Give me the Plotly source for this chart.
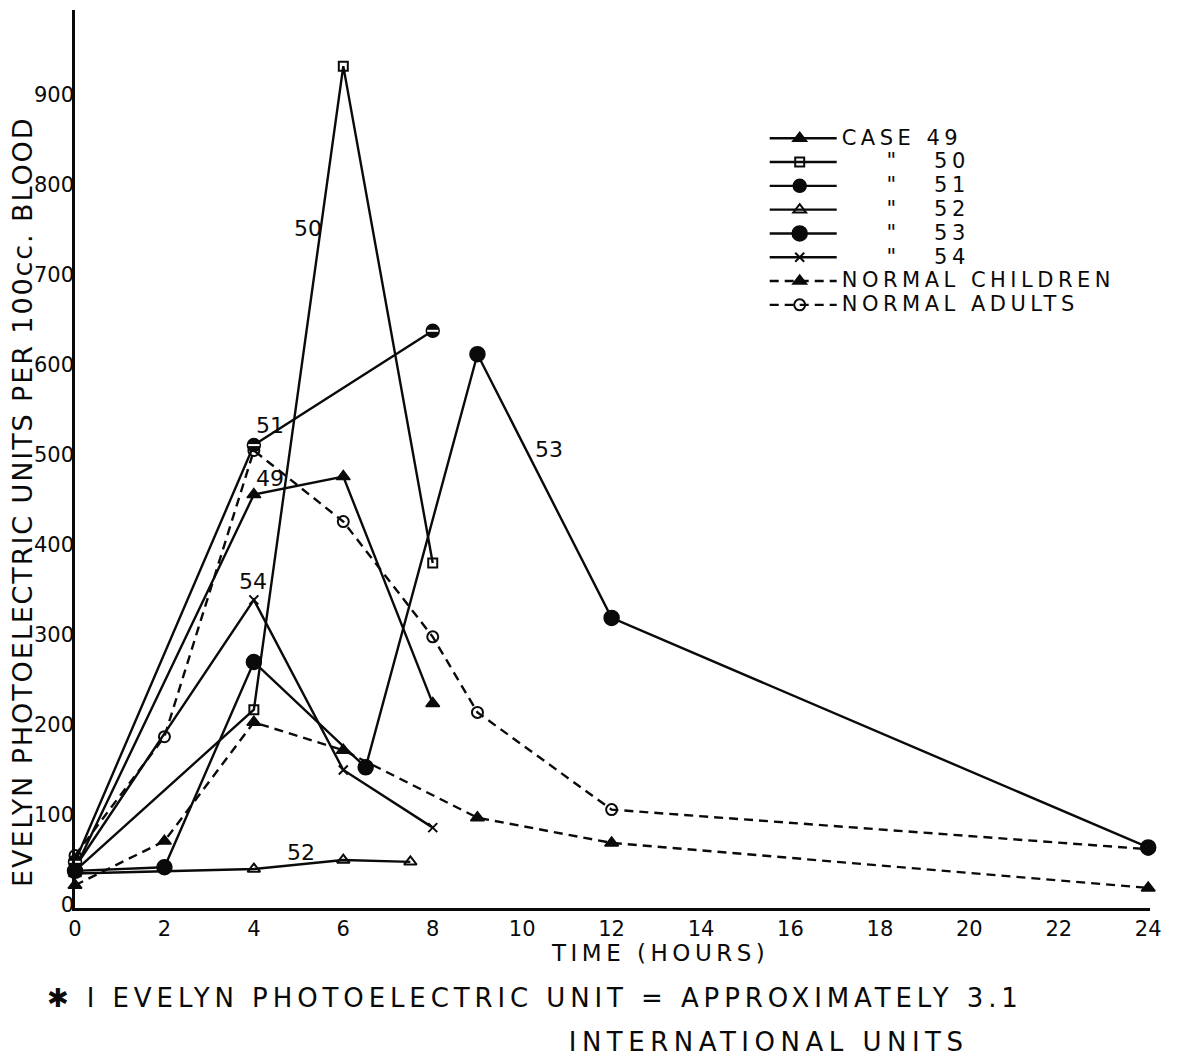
import plotly.graph_objects as go

# ---- data (hours, Evelyn photoelectric units per 100 cc blood) ----
case49_x = [0, 4, 6, 8]
case49_y = [40, 456, 476, 224]
case50_x = [0, 4, 6, 8]
case50_y = [38, 217, 932, 380]
case51_x = [0, 4, 8]
case51_y = [48, 511, 638]
case52_x = [0, 4, 6, 7.5]
case52_y = [35, 40, 50, 48]
case53_x = [0, 2, 4, 6.5, 9, 12, 24]
case53_y = [38, 42, 270, 153, 612, 319, 64]
case54_x = [0, 4, 6, 8]
case54_y = [42, 339, 150, 86]
children_x = [0, 2, 4, 6, 9, 12, 24]
children_y = [22, 71, 203, 172, 97, 69, 19]
adults_x = [0, 2, 4, 6, 8, 9, 12, 24]
adults_y = [55, 187, 505, 426, 298, 214, 106, 62]

x_ticks = [0, 2, 4, 6, 8, 10, 12, 14, 16, 18, 20, 22, 24]
y_ticks = [0, 100, 200, 300, 400, 500, 600, 700, 800, 900]

# curve labels: (text, hour, value)
curve_labels = [("50", 5.2, 752), ("51", 4.36, 533), ("49", 4.36, 474),
                ("54", 3.98, 359), ("53", 10.6, 506), ("52", 5.05, 58)]

NB = "\u00a0"
DITTO = NB * 4 + '"' + NB * 3
legend_names = [
    "CASE 49",
    DITTO + "50",
    DITTO + "51",
    DITTO + "52",
    DITTO + "53",
    DITTO + "54",
    "NORMAL CHILDREN",
    "NORMAL ADULTS",
]

FONT = "DejaVu Sans"
BLACK = "#0a0a0a"
LW = 2.4
DASH = "9px,6px"

fig = go.Figure()


def add(x, y, name, symbol, size, dash="solid", mlw=1.5):
    fig.add_trace(go.Scatter(
        x=x, y=y, name=name, mode="lines+markers",
        line=dict(color=BLACK, width=LW, dash=dash),
        marker=dict(symbol=symbol, size=size, color=BLACK,
                    line=dict(color=BLACK, width=mlw)),
        cliponaxis=False,
    ))


add(case49_x, case49_y, legend_names[0], "triangle-up", 12)
add(case50_x, case50_y, legend_names[1], "square-open", 9, mlw=2)
add(case51_x, case51_y, legend_names[2], "circle", 13)
add(case52_x, case52_y, legend_names[3], "triangle-up-open", 11, mlw=2)
add(case53_x, case53_y, legend_names[4], "circle", 15)
add(case54_x, case54_y, legend_names[5], "x-thin", 9, mlw=2)
add(children_x, children_y, legend_names[6], "triangle-up", 12, dash=DASH)
add(adults_x, adults_y, legend_names[7], "circle-open", 11, dash=DASH, mlw=2)

# white bar through the half-filled circle markers of case 51
fig.add_trace(go.Scatter(
    x=case51_x, y=case51_y, mode="markers", showlegend=False, hoverinfo="skip",
    marker=dict(symbol="line-ew", size=8, line=dict(color="white", width=2)),
    cliponaxis=False,
))

for txt, hx, val in curve_labels:
    fig.add_annotation(x=hx, y=val, text=txt, showarrow=False,
                       font=dict(family=FONT, size=22, color=BLACK))

# axis titles and footnote
fig.add_annotation(xref="paper", yref="paper", x=-0.0493, y=0.452,
                   xanchor="center", yanchor="middle",
                   text="EVELYN PHOTOELECTRIC UNITS PER 100cc. BLOOD",
                   textangle=-90, showarrow=False,
                   font=dict(family=FONT, size=27, color=BLACK))
fig.add_annotation(xref="paper", yref="paper", x=0.544, y=-0.0501,
                   xanchor="center", yanchor="middle",
                   text="TIME (HOURS)", showarrow=False,
                   font=dict(family=FONT, size=23, color=BLACK))
fig.add_annotation(xref="paper", yref="paper", x=0.428, y=-0.1002,
                   xanchor="center", yanchor="middle",
                   text="\u2731 I EVELYN PHOTOELECTRIC UNIT = APPROXIMATELY 3.1",
                   showarrow=False, font=dict(family=FONT, size=26, color=BLACK))
fig.add_annotation(xref="paper", yref="paper", x=0.645, y=-0.149,
                   xanchor="center", yanchor="middle",
                   text="INTERNATIONAL UNITS",
                   showarrow=False, font=dict(family=FONT, size=26, color=BLACK))

fig.update_layout(
    width=1182, height=1056,
    margin=dict(l=75, r=32, t=10, b=148),
    paper_bgcolor="white", plot_bgcolor="white",
    font=dict(family=FONT, color=BLACK),
    showlegend=True,
    legend=dict(x=0.676, y=0.876, xanchor="left", yanchor="top",
                font=dict(family=FONT, size=16, color=BLACK),
                bgcolor="rgba(0,0,0,0)", tracegroupgap=0),
    xaxis=dict(range=[0, 24.04], tickvals=x_ticks, ticktext=[str(v) for v in x_ticks],
               showgrid=False, zeroline=False, showline=True, linecolor=BLACK,
               linewidth=2.5, ticks="", tickfont=dict(family=FONT, size=21, color=BLACK)),
    yaxis=dict(range=[-3.3, 994.4], tickvals=y_ticks, ticktext=[str(v) for v in y_ticks],
               showgrid=False, zeroline=False, showline=True, linecolor=BLACK,
               linewidth=2.5, ticks="", ticklabelstandoff=-6,
               tickfont=dict(family=FONT, size=21, color=BLACK)),
)

# hand-lettered look: wider letter spacing, larger legend lettering, longer legend samples
post_js = """
var gd = document.getElementById('{plot_id}');
function letterFix() {
  var spacing = [['EVELYN PHOTO', '1.9px'], ['TIME', '4.5px'], ['\\u2731', '4.9px'],
                 ['INTERNATIONAL', '5.5px']];
  gd.querySelectorAll('text.annotation-text').forEach(function (t) {
    var s = t.textContent;
    spacing.forEach(function (p) { if (s.indexOf(p[0]) === 0) { t.style.letterSpacing = p[1]; } });
  });
  gd.querySelectorAll('g.legend text.legendtext').forEach(function (t) {
    t.style.fontSize = '21px';
    t.style.letterSpacing = '4.5px';
  });
  gd.querySelectorAll('g.legend [clip-path]').forEach(function (el) {
    el.removeAttribute('clip-path');
  });
  gd.querySelectorAll('g.legend g.legendlines path').forEach(function (p) {
    p.setAttribute('d', 'M-32,0h67');
  });
  gd.querySelectorAll('g.legend g.legendpoints path.scatterpts').forEach(function (p) {
    p.setAttribute('transform', 'translate(-2,0)');
  });
}
letterFix();
gd.on('plotly_afterplot', letterFix);
"""

fig.write_html("out.html", post_script=post_js)
